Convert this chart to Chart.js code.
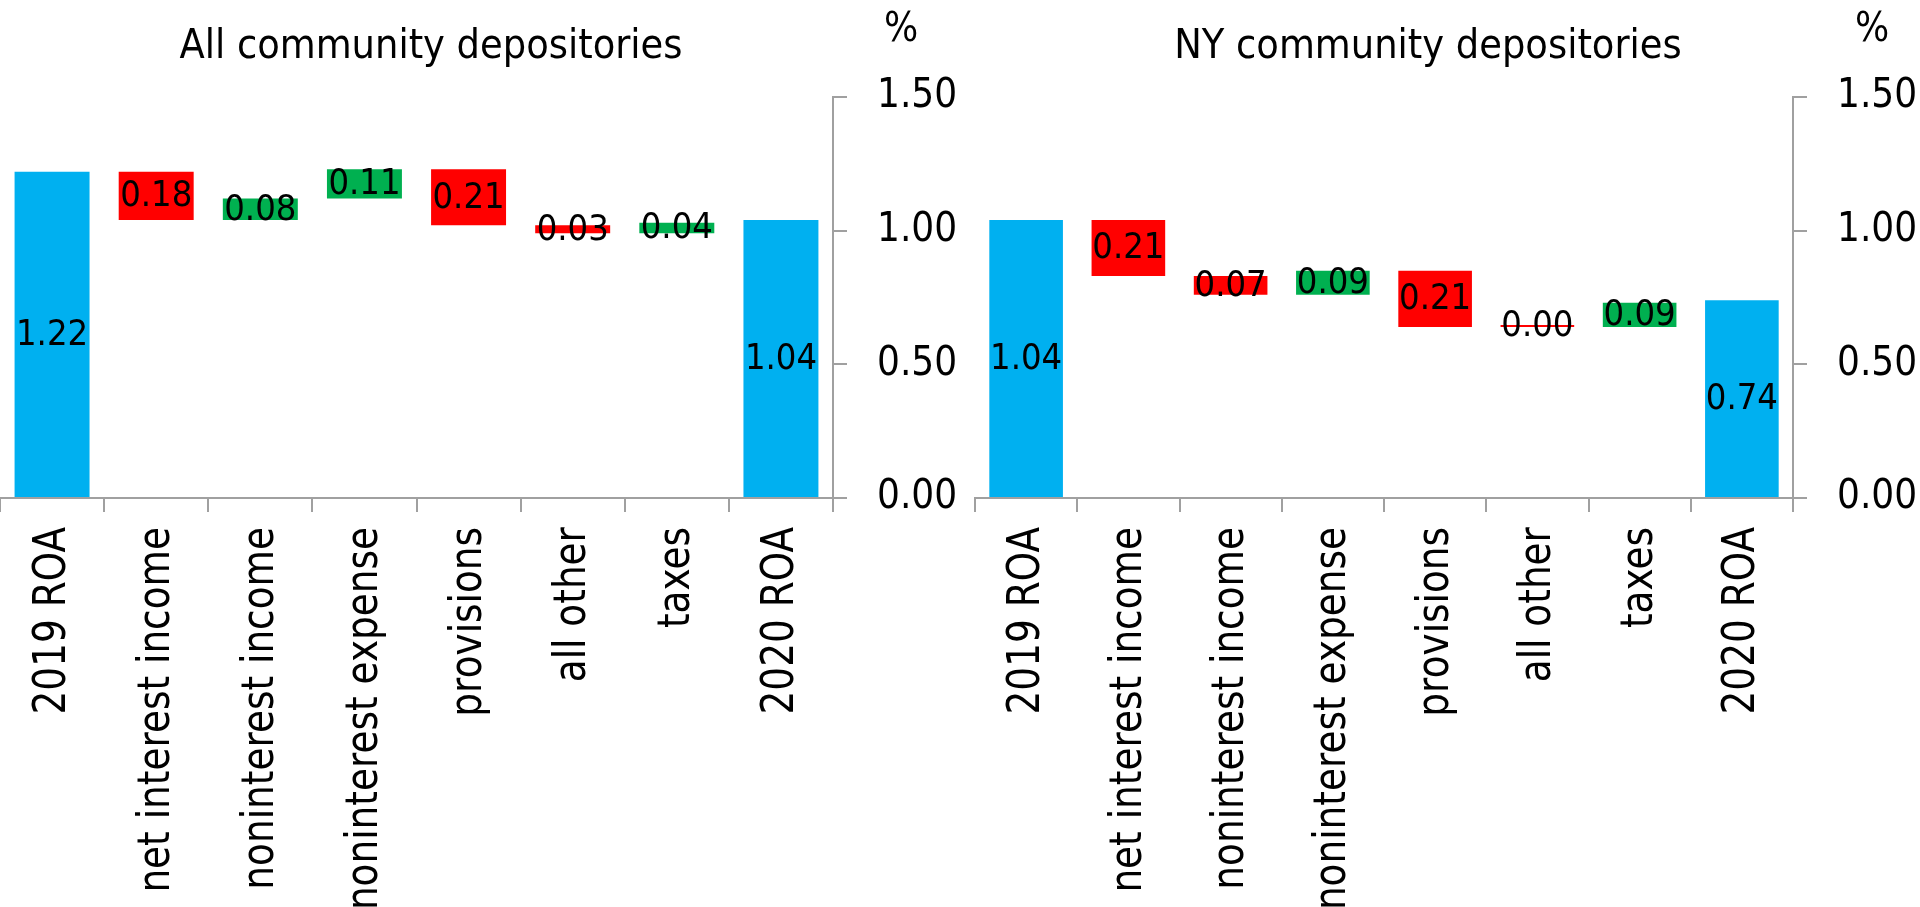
<!DOCTYPE html>
<html>
<head>
<meta charset="utf-8">
<script src="https://cdn.jsdelivr.net/npm/chart.js@4/dist/chart.umd.min.js"></script>
<style>
  html, body { margin: 0; padding: 0; background: #ffffff; width: 1920px; height: 907px; overflow: hidden; }
  .panel { position: absolute; top: 0; width: 960px; height: 907px; }
  #panelAll { left: 0; }
  #panelNY { left: 960px; }
</style>
</head>
<body>
<div class="panel" id="panelAll"><canvas id="chartAll"></canvas></div>
<div class="panel" id="panelNY"><canvas id="chartNY"></canvas></div>
<script>
// ROA bridge 2019 -> 2020, percent of assets
const categories = ['2019 ROA', 'net interest income', 'noninterest income', 'noninterest expense',
                    'provisions', 'all other', 'taxes', '2020 ROA'];

const allStartROA = 1.22;
const allChanges = [-0.18, 0.08, 0.11, -0.21, -0.03, 0.04];
const allEndROA = 1.04;

const nyStartROA = 1.04;
const nyChanges = [-0.21, -0.07, 0.09, -0.21, 0.00, 0.09];
const nyEndROA = 0.74;

const yTickValues = [0.00, 0.50, 1.00, 1.50];

const BLUE = '#00B0F0';
const RED = '#FF0000';
const GREEN = '#00B050';
const AXIS_GREY = '#A0A0A0';
const NUM_FONT = '"DejaVu Sans Condensed", "DejaVu Sans", sans-serif';
const CAT_FONT = '"DejaVu Sans", sans-serif';

// Build floating bar ranges: totals from zero, each change stacked on the running level
function buildWaterfall(start, changes, end) {
  const ranges = [[0, start]];
  const colors = [BLUE];
  const values = [start];
  let level = start;
  changes.forEach(c => {
    const next = Math.round((level + c) * 100) / 100;
    ranges.push([level, next]);
    colors.push(c > 0 ? GREEN : RED);
    values.push(Math.abs(c));
    level = next;
  });
  ranges.push([0, end]);
  colors.push(BLUE);
  values.push(end);
  return { ranges, colors, values };
}

// Writes each bar's value in the middle of the bar
const barValueLabels = {
  id: 'barValueLabels',
  afterDatasetsDraw(chart, args, opts) {
    const ctx = chart.ctx;
    chart.data.datasets.forEach((ds, i) => {
      const meta = chart.getDatasetMeta(i);
      meta.data.forEach((bar, j) => {
        ctx.save();
        ctx.font = opts.font;
        ctx.fillStyle = '#000000';
        ctx.textAlign = 'center';
        ctx.textBaseline = 'middle';
        ctx.fillText(ds.valueLabels[j].toFixed(2), bar.x, (bar.y + bar.base) / 2 + 1);
        ctx.restore();
      });
    });
  }
};

// Vertical category names under the x axis, set in a narrowed face
const categoryLabels = {
  id: 'categoryLabels',
  afterDraw(chart, args, o) {
    const ctx = chart.ctx;
    const xs = chart.scales.x;
    const top = chart.chartArea.bottom + o.offset;
    chart.data.labels.forEach((label, i) => {
      ctx.save();
      ctx.translate(xs.getPixelForValue(i) + 1, top);
      ctx.rotate(-Math.PI / 2);
      ctx.scale(o.squeeze, 1);
      ctx.font = o.font;
      ctx.fillStyle = '#000000';
      ctx.textAlign = 'right';
      ctx.textBaseline = 'middle';
      ctx.fillText(label, 0, 0);
      ctx.restore();
    });
  }
};

// Panel heading and the unit marker above the value axis
const panelText = {
  id: 'panelText',
  afterDraw(chart, args, o) {
    const ctx = chart.ctx;
    ctx.save();
    ctx.fillStyle = '#000000';
    ctx.textAlign = 'center';
    ctx.textBaseline = 'alphabetic';
    ctx.font = o.titleFont;
    ctx.fillText(o.title, o.titleX, o.titleY);
    ctx.font = o.unitFont;
    ctx.fillText(o.unit, o.unitX, o.unitY);
    ctx.restore();
  }
};

function makeChart(canvasId, start, changes, end, title, titleX, unitX, padLeft) {
  const wf = buildWaterfall(start, changes, end);
  return new Chart(document.getElementById(canvasId), {
    type: 'bar',
    data: {
      labels: categories,
      datasets: [{
        data: wf.ranges,
        valueLabels: wf.values,
        backgroundColor: wf.colors,
        borderWidth: 0,
        categoryPercentage: 1.0,
        barPercentage: 0.72,
        minBarLength: 2
      }]
    },
    options: {
      responsive: true,
      maintainAspectRatio: false,
      animation: false,
      events: [],
      layout: { padding: { top: 97, left: padLeft, right: 0, bottom: 0 } },
      plugins: {
        legend: { display: false },
        title: { display: false },
        tooltip: { enabled: false },
        barValueLabels: { font: '36px ' + NUM_FONT },
        categoryLabels: { font: '44px ' + CAT_FONT, squeeze: 0.85, offset: 29 },
        panelText: {
          title: title, titleX: titleX, titleY: 58, titleFont: '41px ' + NUM_FONT,
          unit: '%', unitX: unitX, unitY: 41, unitFont: '40px ' + NUM_FONT
        }
      },
      scales: {
        x: {
          grid: { offset: true, drawOnChartArea: false, drawTicks: true, tickLength: 14, color: AXIS_GREY, lineWidth: 2 },
          border: { display: true, color: AXIS_GREY, width: 2 },
          ticks: { display: false, autoSkip: false },
          afterFit(scale) { scale.height = 409; }
        },
        y: {
          position: 'right',
          min: 0, max: 1.5,
          afterBuildTicks(scale) { scale.ticks = yTickValues.map(v => ({ value: v })); },
          grid: { drawOnChartArea: false, drawTicks: true, tickLength: 14, color: AXIS_GREY, lineWidth: 2 },
          border: { display: true, color: AXIS_GREY, width: 2 },
          ticks: {
            padding: 30, color: '#000000', font: { family: NUM_FONT, size: 40 },
            callback: v => Number(v).toFixed(2)
          },
          afterFit(scale) { scale.width = 127; }
        }
      }
    },
    plugins: [barValueLabels, categoryLabels, panelText]
  });
}

makeChart('chartAll', allStartROA, allChanges, allEndROA, 'All community depositories', 431, 901, 0);
makeChart('chartNY', nyStartROA, nyChanges, nyEndROA, 'NY community depositories', 468, 912, 15);
</script>
</body>
</html>
